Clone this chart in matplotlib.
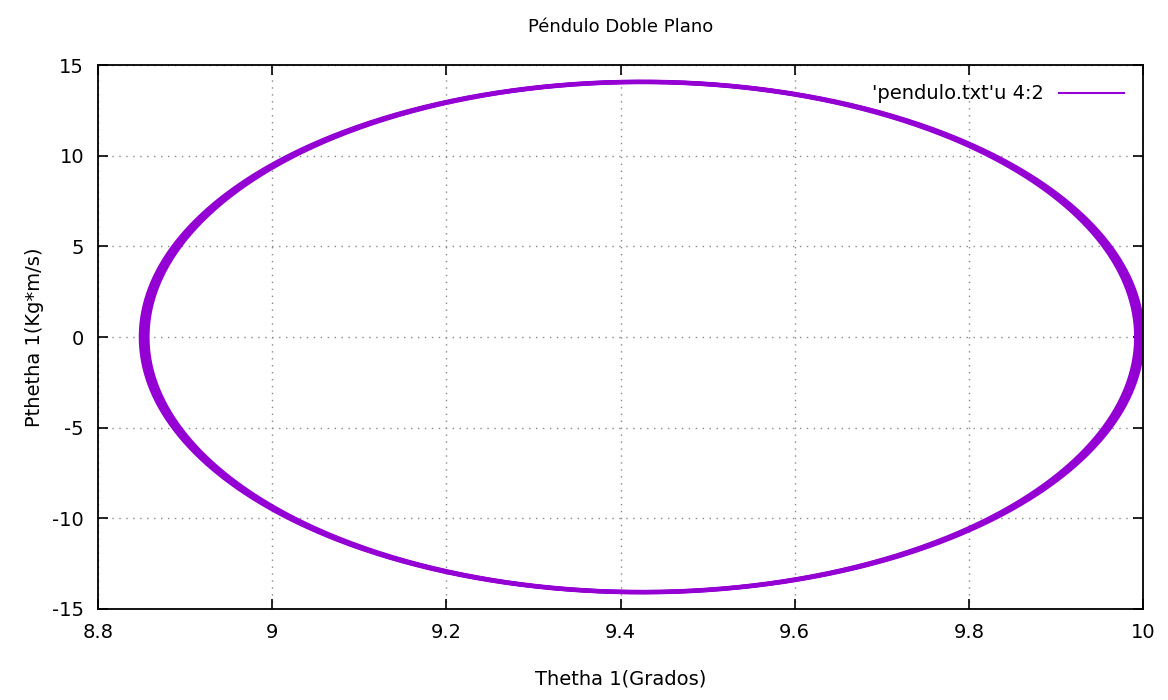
import numpy as np
from matplotlib import pyplot as plt

# extents (a few slightly offset loops make the thick band)
theta_min = [8.849, 8.851, 8.853, 8.855, 8.857]
theta_max = [10.000, 9.998, 9.996, 9.994, 9.992]
ptheta_amp = [14.09, 14.08, 14.07, 14.06, 14.05]

xticks = [8.8, 9, 9.2, 9.4, 9.6, 9.8, 10]
xtick_labels = ['8.8', '9', '9.2', '9.4', '9.6', '9.8', '10']
yticks = [-15, -10, -5, 0, 5, 10, 15]

plt.rcParams['font.family'] = ['DejaVu Sans']
plt.rcParams['axes.unicode_minus'] = False

fig = plt.figure(figsize=(11.68, 7.0), dpi=100)
ax = fig.add_axes([0.0839, 0.13, 0.8947, 0.7771])

t = np.linspace(0, 2 * np.pi, 800)
for i in range(len(theta_min)):
    c = (theta_min[i] + theta_max[i]) / 2
    a = (theta_max[i] - theta_min[i]) / 2
    X = c + a * np.cos(t)
    Y = ptheta_amp[i] * np.sin(t)
    ax.plot(X, Y, color='#9400D3', lw=2.8,
            label="'pendulo.txt'u 4:2" if i == 0 else None)

ax.set_xlim(8.8, 10)
ax.set_ylim(-15, 15)
ax.set_xticks(xticks)
ax.set_xticklabels(xtick_labels)
ax.set_yticks(yticks)
ax.tick_params(direction='in', top=True, right=True, length=7, width=1.2,
               labelsize=14, pad=10)
ax.grid(True, linestyle=(0, (1, 4)), color='#888888', lw=1)
for s in ax.spines.values():
    s.set_linewidth(1.3)

ax.set_title('Péndulo Doble Plano', fontsize=13, pad=24)
ax.set_xlabel('Thetha 1(Grados)', fontsize=14, labelpad=20)
ax.set_ylabel('Pthetha 1(Kg*m/s)', fontsize=14, labelpad=6)

leg = ax.legend(loc='upper right', frameon=False, fontsize=14,
                handlelength=3.3, markerfirst=False, borderaxespad=0.6)
for line in leg.get_lines():
    line.set_linewidth(1.5)

fig.savefig('out.png', dpi=100)
